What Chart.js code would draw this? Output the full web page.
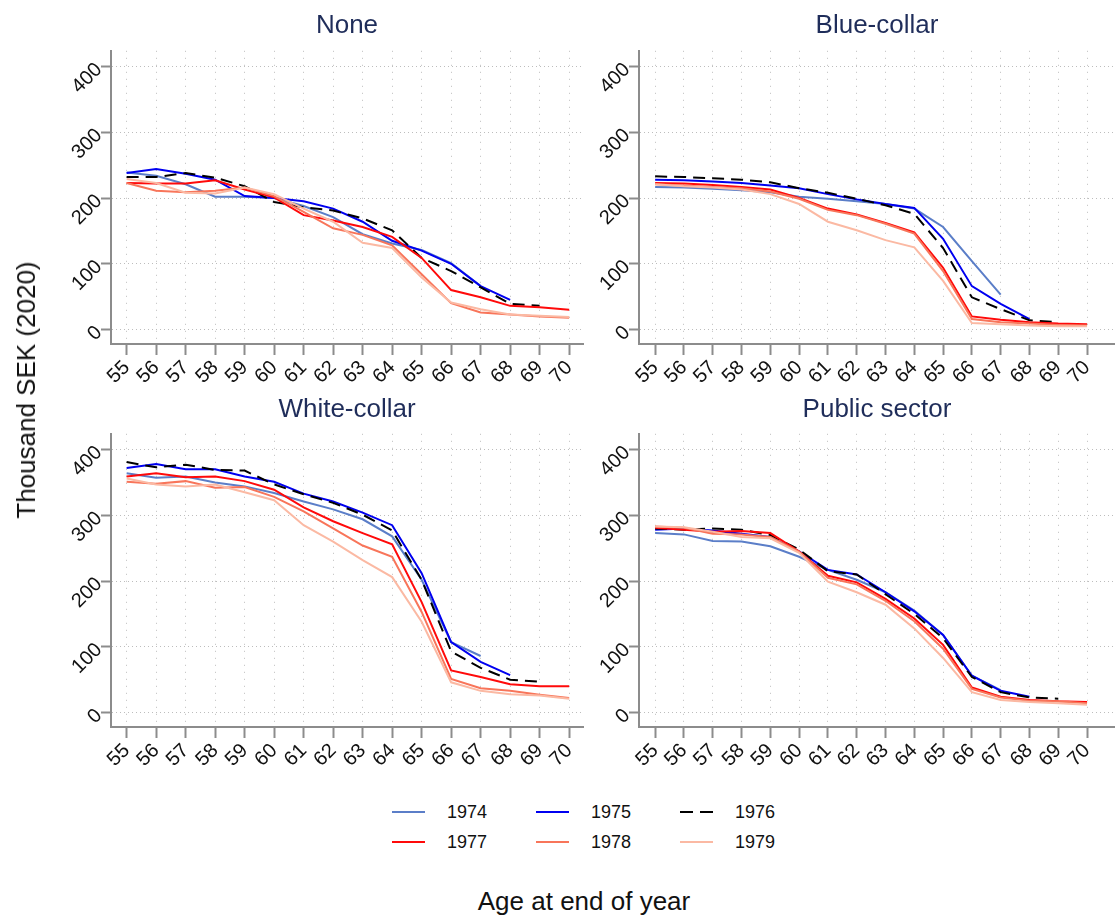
<!DOCTYPE html>
<html>
<head>
<meta charset="utf-8">
<title>Thousand SEK (2020) by age at end of year</title>
<script src="https://cdn.jsdelivr.net/npm/chart.js@4.4.1/dist/chart.umd.min.js"></script>
<style>
  body { margin: 0; background: #fff; }
  #wrap {
    position: relative; width: 1115px; height: 918px; overflow: hidden;
    font-family: "Liberation Sans", Arial, sans-serif; color: #111;
  }
  canvas { position: absolute; }
  .axtitle { position: absolute; font-size: 26px; line-height: 30px; white-space: nowrap; }
  #ytitle { left: 26px; top: 390px; transform: translate(-50%, -50%) rotate(-90deg); }
  #xtitle { left: 584px; top: 886px; transform: translateX(-50%); }
  .leg { position: absolute; font-size: 18px; line-height: 20px; }
  .sw { position: absolute; width: 33px; height: 2px; }
</style>
</head>
<body>
<div id="wrap">
  <canvas id="c1" width="550" height="400" style="left:40px;top:0px"></canvas>
  <canvas id="c2" width="535" height="400" style="left:580px;top:0px"></canvas>
  <canvas id="c3" width="550" height="400" style="left:40px;top:380px"></canvas>
  <canvas id="c4" width="535" height="400" style="left:580px;top:380px"></canvas>
  <div id="ytitle" class="axtitle">Thousand SEK (2020)</div>
  <div id="xtitle" class="axtitle">Age at end of year</div>
  <div id="legend"></div>
</div>
<script>
/* ── eixo x: idade no fim do ano ── */
const ages = [55, 56, 57, 58, 59, 60, 61, 62, 63, 64, 65, 66, 67, 68, 69, 70];
const yTicks = [0, 100, 200, 300, 400];
const years = ['1974', '1975', '1976', '1977', '1978', '1979'];

/* ── None ── */
const none1974 = [239, 234, 221, 202, 202, 200, 188, 171, 145, 131, 121, 101, 66];
const none1975 = [238, 244, 237, 228, 203, 200, 195, 184, 164, 135, 120, 100, 66, 45];
const none1976 = [232, 232, 238, 231, 218, 194, 186, 181, 169, 151, 109, 89, 64, 39, 36];
const none1977 = [223, 222, 222, 227, 213, 201, 174, 166, 156, 141, 109, 60, 49, 36, 34, 30];
const none1978 = [223, 211, 209, 211, 216, 203, 179, 154, 144, 128, 84, 40, 26, 23, 20, 18];
const none1979 = [229, 223, 208, 207, 216, 206, 184, 164, 132, 124, 79, 41, 31, 23, 21, 19];

/* ── Blue-collar ── */
const blue1974 = [217, 216, 214, 212, 209, 202, 199, 195, 191, 184, 156, 104, 53];
const blue1975 = [228, 227, 225, 223, 219, 215, 206, 198, 191, 185, 138, 66, 39, 16];
const blue1976 = [233, 232, 230, 228, 224, 215, 208, 199, 189, 176, 124, 49, 31, 14, 11];
const blue1977 = [223, 222, 220, 217, 213, 200, 184, 175, 162, 148, 94, 20, 15, 11, 9, 8];
const blue1978 = [221, 219, 217, 215, 210, 199, 182, 174, 161, 146, 89, 16, 11, 9, 7, 6];
const blue1979 = [221, 218, 216, 213, 206, 191, 164, 151, 136, 125, 74, 10, 8, 6, 5, 5];

/* ── White-collar ── */
const white1974 = [364, 357, 359, 350, 344, 334, 321, 309, 294, 268, 202, 107, 86];
const white1975 = [372, 378, 370, 370, 359, 351, 333, 321, 304, 285, 212, 107, 77, 57];
const white1976 = [381, 373, 377, 369, 368, 347, 332, 319, 301, 277, 202, 93, 68, 50, 47];
const white1977 = [359, 364, 358, 359, 352, 339, 312, 291, 273, 256, 168, 64, 54, 43, 40, 40];
const white1978 = [351, 348, 352, 342, 343, 328, 306, 280, 254, 237, 153, 51, 37, 33, 27, 22];
const white1979 = [356, 347, 344, 347, 335, 323, 285, 260, 232, 206, 138, 46, 33, 28, 26, 21];

/* ── Public sector ── */
const public1974 = [273, 271, 261, 260, 253, 237, 217, 202, 183, 155, 118, 56, 34];
const public1975 = [278, 280, 277, 272, 267, 245, 217, 210, 183, 154, 118, 56, 33, 24];
const public1976 = [280, 278, 280, 278, 270, 248, 215, 210, 180, 150, 113, 54, 31, 23, 21];
const public1977 = [281, 278, 275, 276, 273, 245, 208, 198, 173, 143, 103, 38, 24, 19, 17, 16];
const public1978 = [283, 281, 272, 271, 267, 245, 205, 195, 170, 139, 97, 36, 23, 18, 17, 14];
const public1979 = [283, 282, 275, 267, 265, 243, 199, 183, 164, 128, 83, 31, 19, 16, 14, 12];

/* ── estilo por coorte ── */
const cores = ['#5b7ec8', '#0000f0', '#000000', '#ff0a0a', '#f8755a', '#fbb9a3'];
const tracos = [[], [], [12, 7], [], [], []];

const FONTE = '"Liberation Sans", Arial, sans-serif';
const CINZA_EIXO = '#8c8c8c';

function criarPainel(id, titulo, series, opt) {
  const ctx = document.getElementById(id).getContext('2d');
  return new Chart(ctx, {
    type: 'line',
    data: {
      labels: ages,
      datasets: series.map((s, i) => ({
        label: years[i],
        data: s,
        borderColor: cores[i],
        borderWidth: 2,
        borderDash: tracos[i],
        pointRadius: 0,
        tension: 0,
        fill: false,
        order: -i
      }))
    },
    options: {
      responsive: false,
      animation: false,
      events: [],
      layout: { padding: { left: 0, right: opt.padR, top: 0, bottom: 0 } },
      plugins: {
        legend: { display: false },
        tooltip: { enabled: false },
        title: {
          display: true,
          text: titulo,
          fullSize: false,
          color: '#1f2d5a',
          font: { family: FONTE, size: 26, weight: 'normal', lineHeight: 1.2 },
          padding: { top: opt.titTop, bottom: opt.titBot }
        }
      },
      scales: {
        x: {
          type: 'linear',
          min: opt.xmin,
          max: opt.xmax,
          afterBuildTicks: s => { s.ticks = ages.map(v => ({ value: v })); },
          afterFit: s => { s.height = opt.xh; },
          grid: {
            color: '#bdbdbd', lineWidth: 1,
            tickColor: CINZA_EIXO, tickWidth: 2, tickLength: 11
          },
          border: { color: CINZA_EIXO, width: 2, dash: [1, 6] },
          ticks: {
            color: '#111',
            font: { family: FONTE, size: 20 },
            minRotation: 45, maxRotation: 45,
            autoSkip: false, padding: 1,
            callback: v => String(v)
          }
        },
        y: {
          min: -22,
          max: 424,
          afterBuildTicks: s => { s.ticks = yTicks.map(v => ({ value: v })); },
          afterFit: s => { s.width = opt.yw; },
          grid: {
            color: '#bdbdbd', lineWidth: 1,
            tickColor: CINZA_EIXO, tickWidth: 2, tickLength: 10
          },
          border: { color: CINZA_EIXO, width: 2, dash: [1, 3] },
          ticks: {
            color: '#111',
            font: { family: FONTE, size: 20 },
            minRotation: 45, maxRotation: 45,
            padding: 2,
            callback: v => String(v)
          }
        }
      }
    }
  });
}

const esq = { padR: 7, yw: 71, xmin: 54.47, xmax: 70.47 };
const dir = { padR: 0, yw: 59, xmin: 54.44, xmax: 70.97 };
const topo = { titTop: 10, titBot: 9.6, xh: 56 };
const baixo = { titTop: 14, titBot: 8.6, xh: 53 };

criarPainel('c1', 'None',
  [none1974, none1975, none1976, none1977, none1978, none1979], Object.assign({}, esq, topo));
criarPainel('c2', 'Blue-collar',
  [blue1974, blue1975, blue1976, blue1977, blue1978, blue1979], Object.assign({}, dir, topo));
criarPainel('c3', 'White-collar',
  [white1974, white1975, white1976, white1977, white1978, white1979], Object.assign({}, esq, baixo));
criarPainel('c4', 'Public sector',
  [public1974, public1975, public1976, public1977, public1978, public1979], Object.assign({}, dir, baixo));

/* ── legenda comum (3 colunas x 2 linhas) ── */
const legCols = [392, 536, 680];
const legRows = [812, 842];
const legenda = document.getElementById('legend');
years.forEach((ano, i) => {
  const cx = legCols[i % 3];
  const cy = legRows[Math.floor(i / 3)];
  const sw = document.createElement('div');
  sw.className = 'sw';
  sw.style.left = cx + 'px';
  sw.style.top = (cy - 1) + 'px';
  if (tracos[i].length) {
    sw.style.background = 'repeating-linear-gradient(to right, ' + cores[i] + ' 0 13px, transparent 13px 20px)';
  } else {
    sw.style.background = cores[i];
  }
  legenda.appendChild(sw);
  const tx = document.createElement('div');
  tx.className = 'leg';
  tx.style.left = (cx + 55) + 'px';
  tx.style.top = (cy - 10) + 'px';
  tx.textContent = ano;
  legenda.appendChild(tx);
});
</script>
</body>
</html>
